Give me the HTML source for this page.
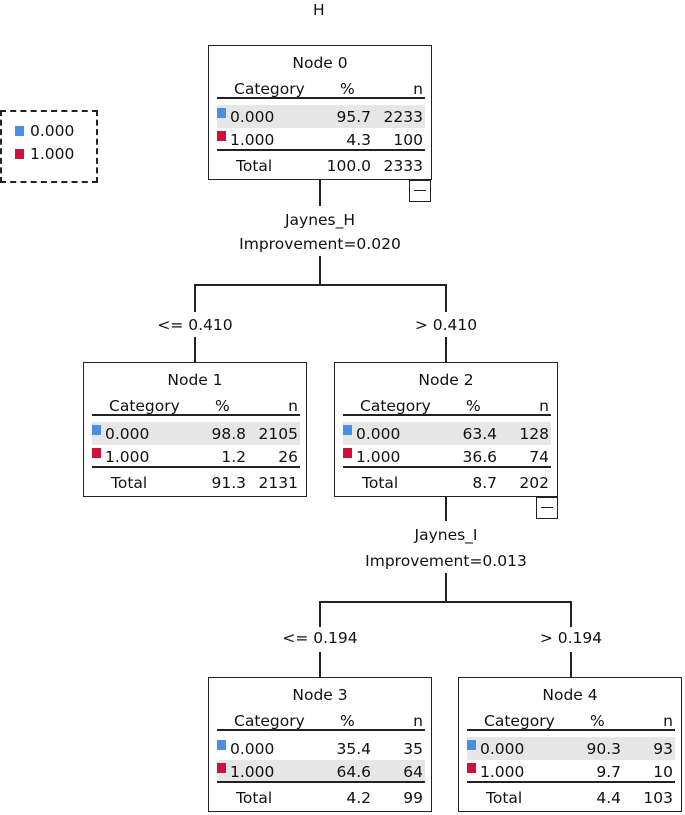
<!DOCTYPE html>
<html><head><style>
body{margin:0;width:685px;height:815px;background:#fff;position:relative;font-family:"DejaVu Sans","Liberation Sans",sans-serif;font-size:15.5px;color:#111;overflow:hidden}
.a{position:absolute;white-space:nowrap;line-height:16px}
.n{position:absolute;width:222px;height:133px;border:1px solid #222;background:#fff}
.hl{position:absolute;left:8px;width:208px;height:23px;background:#e6e6e6}
.ln{position:absolute;left:8px;width:208px;height:2px;background:#222}
.sq{position:absolute;width:9px;height:10px}
.b{background:#4a90e2}.r{background:#d0103a}
.v{position:absolute;background:#222;width:2px}
.h{position:absolute;background:#222;height:2px}
.mn{position:absolute;width:20px;height:20px;border:1px solid #222;background:#fff}
.mn:after{content:"";position:absolute;left:4px;right:4px;top:9px;height:1px;background:#222}
.c{text-align:center}
</style></head><body>
<div class="a" style="left:313px;top:2px">H</div>

<div class="a" style="left:0;top:110px;width:94px;height:69px;border:2px dashed #222;"></div>
<div class="sq b" style="left:15px;top:126px"></div><div class="a" style="left:30px;top:123px">0.000</div>
<div class="sq r" style="left:15px;top:149px"></div><div class="a" style="left:30px;top:146px">1.000</div>

<div class="v" style="left:319px;top:180px;height:26px"></div>
<div class="a c" style="left:220px;width:200px;top:212px">Jaynes_H</div>
<div class="a c" style="left:220px;width:200px;top:236px">Improvement=0.020</div>
<div class="v" style="left:319px;top:256px;height:30px"></div>
<div class="h" style="left:194px;top:284px;width:253px"></div>
<div class="v" style="left:194px;top:284px;height:28px"></div>
<div class="v" style="left:445px;top:284px;height:28px"></div>
<div class="a c" style="left:135px;width:120px;top:317px">&lt;= 0.410</div>
<div class="a c" style="left:386px;width:120px;top:317px">&gt; 0.410</div>
<div class="v" style="left:194px;top:337px;height:26px"></div>
<div class="v" style="left:445px;top:337px;height:26px"></div>

<div class="v" style="left:445px;top:497px;height:24px"></div>
<div class="a c" style="left:346px;width:200px;top:527px">Jaynes_I</div>
<div class="a c" style="left:346px;width:200px;top:553px">Improvement=0.013</div>
<div class="v" style="left:445px;top:573px;height:30px"></div>
<div class="h" style="left:319px;top:601px;width:253px"></div>
<div class="v" style="left:319px;top:601px;height:26px"></div>
<div class="v" style="left:570px;top:601px;height:26px"></div>
<div class="a c" style="left:260px;width:120px;top:630px">&lt;= 0.194</div>
<div class="a c" style="left:511px;width:120px;top:630px">&gt; 0.194</div>
<div class="v" style="left:319px;top:652px;height:26px"></div>
<div class="v" style="left:570px;top:652px;height:26px"></div>

<div class="n" style="left:208px;top:45px">
<div class="a c" style="left:0;width:222px;top:9px">Node 0</div>
<div class="a" style="left:25px;top:35px">Category</div><div class="a" style="left:131px;top:35px">%</div><div class="a" style="right:8px;top:35px">n</div>
<div class="ln" style="top:51px"></div>
<div class="hl" style="top:59px"></div>
<div class="sq b" style="left:8px;top:62px"></div><div class="a" style="left:21px;top:63px">0.000</div><div class="a" style="right:60px;top:63px">95.7</div><div class="a" style="right:8px;top:63px">2233</div>
<div class="sq r" style="left:8px;top:85px"></div><div class="a" style="left:21px;top:86px">1.000</div><div class="a" style="right:60px;top:86px">4.3</div><div class="a" style="right:8px;top:86px">100</div>
<div class="ln" style="top:103px"></div>
<div class="a" style="left:27px;top:112px">Total</div><div class="a" style="right:60px;top:112px">100.0</div><div class="a" style="right:8px;top:112px">2333</div>
</div>
<div class="mn" style="left:409px;top:180px"></div>

<div class="n" style="left:83px;top:362px">
<div class="a c" style="left:0;width:222px;top:9px">Node 1</div>
<div class="a" style="left:25px;top:35px">Category</div><div class="a" style="left:131px;top:35px">%</div><div class="a" style="right:8px;top:35px">n</div>
<div class="ln" style="top:51px"></div>
<div class="hl" style="top:59px"></div>
<div class="sq b" style="left:8px;top:62px"></div><div class="a" style="left:21px;top:63px">0.000</div><div class="a" style="right:60px;top:63px">98.8</div><div class="a" style="right:8px;top:63px">2105</div>
<div class="sq r" style="left:8px;top:85px"></div><div class="a" style="left:21px;top:86px">1.000</div><div class="a" style="right:60px;top:86px">1.2</div><div class="a" style="right:8px;top:86px">26</div>
<div class="ln" style="top:103px"></div>
<div class="a" style="left:27px;top:112px">Total</div><div class="a" style="right:60px;top:112px">91.3</div><div class="a" style="right:8px;top:112px">2131</div>
</div>

<div class="n" style="left:334px;top:362px">
<div class="a c" style="left:0;width:222px;top:9px">Node 2</div>
<div class="a" style="left:25px;top:35px">Category</div><div class="a" style="left:131px;top:35px">%</div><div class="a" style="right:8px;top:35px">n</div>
<div class="ln" style="top:51px"></div>
<div class="hl" style="top:59px"></div>
<div class="sq b" style="left:8px;top:62px"></div><div class="a" style="left:21px;top:63px">0.000</div><div class="a" style="right:60px;top:63px">63.4</div><div class="a" style="right:8px;top:63px">128</div>
<div class="sq r" style="left:8px;top:85px"></div><div class="a" style="left:21px;top:86px">1.000</div><div class="a" style="right:60px;top:86px">36.6</div><div class="a" style="right:8px;top:86px">74</div>
<div class="ln" style="top:103px"></div>
<div class="a" style="left:27px;top:112px">Total</div><div class="a" style="right:60px;top:112px">8.7</div><div class="a" style="right:8px;top:112px">202</div>
</div>
<div class="mn" style="left:536px;top:497px"></div>

<div class="n" style="left:208px;top:677px">
<div class="a c" style="left:0;width:222px;top:9px">Node 3</div>
<div class="a" style="left:25px;top:35px">Category</div><div class="a" style="left:131px;top:35px">%</div><div class="a" style="right:8px;top:35px">n</div>
<div class="ln" style="top:51px"></div>
<div class="hl" style="top:82px"></div>
<div class="sq b" style="left:8px;top:62px"></div><div class="a" style="left:21px;top:63px">0.000</div><div class="a" style="right:60px;top:63px">35.4</div><div class="a" style="right:8px;top:63px">35</div>
<div class="sq r" style="left:8px;top:85px"></div><div class="a" style="left:21px;top:86px">1.000</div><div class="a" style="right:60px;top:86px">64.6</div><div class="a" style="right:8px;top:86px">64</div>
<div class="ln" style="top:103px"></div>
<div class="a" style="left:27px;top:112px">Total</div><div class="a" style="right:60px;top:112px">4.2</div><div class="a" style="right:8px;top:112px">99</div>
</div>

<div class="n" style="left:458px;top:677px">
<div class="a c" style="left:0;width:222px;top:9px">Node 4</div>
<div class="a" style="left:25px;top:35px">Category</div><div class="a" style="left:131px;top:35px">%</div><div class="a" style="right:8px;top:35px">n</div>
<div class="ln" style="top:51px"></div>
<div class="hl" style="top:59px"></div>
<div class="sq b" style="left:8px;top:62px"></div><div class="a" style="left:21px;top:63px">0.000</div><div class="a" style="right:60px;top:63px">90.3</div><div class="a" style="right:8px;top:63px">93</div>
<div class="sq r" style="left:8px;top:85px"></div><div class="a" style="left:21px;top:86px">1.000</div><div class="a" style="right:60px;top:86px">9.7</div><div class="a" style="right:8px;top:86px">10</div>
<div class="ln" style="top:103px"></div>
<div class="a" style="left:27px;top:112px">Total</div><div class="a" style="right:60px;top:112px">4.4</div><div class="a" style="right:8px;top:112px">103</div>
</div>
</body></html>
